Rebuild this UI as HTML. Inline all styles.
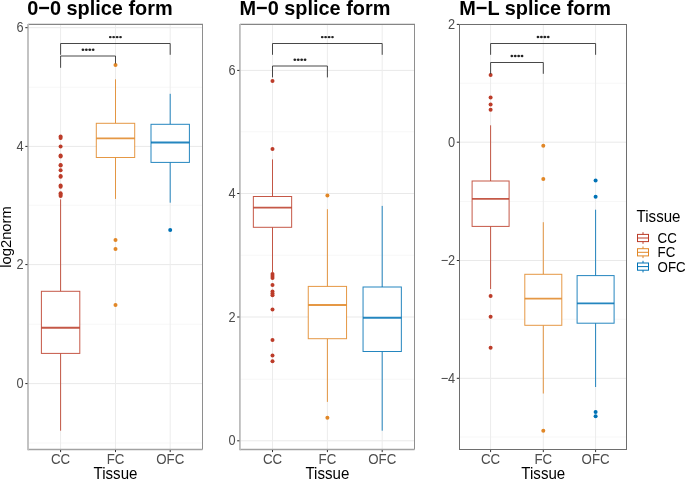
<!DOCTYPE html>
<html><head><meta charset="utf-8"><title>Splice form boxplots</title>
<style>
html,body{margin:0;padding:0;background:#fff;}
body{width:685px;height:480px;overflow:hidden;font-family:"Liberation Sans",sans-serif;}
svg{display:block;will-change:transform;}
</style></head><body>
<svg width="685" height="480" viewBox="0 0 685 480" font-family="'Liberation Sans', sans-serif">
<rect x="0" y="0" width="685" height="480" fill="#ffffff"/>
<g>
<line x1="28.0" x2="202.5" y1="87.3" y2="87.3" stroke="#f3f3f3" stroke-width="0.7"/>
<line x1="28.0" x2="202.5" y1="205.3" y2="205.3" stroke="#f3f3f3" stroke-width="0.7"/>
<line x1="28.0" x2="202.5" y1="324.2" y2="324.2" stroke="#f3f3f3" stroke-width="0.7"/>
<line x1="28.0" x2="202.5" y1="443.0" y2="443.0" stroke="#f3f3f3" stroke-width="0.7"/>
<line x1="28.0" x2="202.5" y1="27.7" y2="27.7" stroke="#e9e9e9" stroke-width="1"/>
<line x1="28.0" x2="202.5" y1="146.4" y2="146.4" stroke="#e9e9e9" stroke-width="1"/>
<line x1="28.0" x2="202.5" y1="264.6" y2="264.6" stroke="#e9e9e9" stroke-width="1"/>
<line x1="28.0" x2="202.5" y1="383.6" y2="383.6" stroke="#e9e9e9" stroke-width="1"/>
<line x1="60.6" x2="60.6" y1="24.5" y2="449.5" stroke="#ececec" stroke-width="1"/>
<line x1="115.5" x2="115.5" y1="24.5" y2="449.5" stroke="#ececec" stroke-width="1"/>
<line x1="170.2" x2="170.2" y1="24.5" y2="449.5" stroke="#ececec" stroke-width="1"/>
<g stroke="#BC3C29" fill="none" stroke-width="1" stroke-opacity="0.86">
<line x1="60.6" x2="60.6" y1="199.4" y2="291.3"/>
<line x1="60.6" x2="60.6" y1="353.4" y2="430.7"/>
<rect x="41.40" y="291.3" width="38.40" height="62.10" fill="#ffffff"/>
<line x1="41.40" x2="79.80" y1="327.7" y2="327.7" stroke-width="1.9"/>
</g>
<circle cx="60.6" cy="136.5" r="2.0" fill="#BC3C29"/>
<circle cx="60.6" cy="138.1" r="2.0" fill="#BC3C29"/>
<circle cx="60.6" cy="146.4" r="2.0" fill="#BC3C29"/>
<circle cx="60.6" cy="155.4" r="2.0" fill="#BC3C29"/>
<circle cx="60.6" cy="156.5" r="2.0" fill="#BC3C29"/>
<circle cx="60.6" cy="164.9" r="2.0" fill="#BC3C29"/>
<circle cx="60.6" cy="165.6" r="2.0" fill="#BC3C29"/>
<circle cx="60.6" cy="170.2" r="2.0" fill="#BC3C29"/>
<circle cx="60.6" cy="175.9" r="2.0" fill="#BC3C29"/>
<circle cx="60.6" cy="176.7" r="2.0" fill="#BC3C29"/>
<circle cx="60.6" cy="185.6" r="2.0" fill="#BC3C29"/>
<circle cx="60.6" cy="186.8" r="2.0" fill="#BC3C29"/>
<circle cx="60.6" cy="193.3" r="2.0" fill="#BC3C29"/>
<circle cx="60.6" cy="194.7" r="2.0" fill="#BC3C29"/>
<circle cx="60.6" cy="196.1" r="2.0" fill="#BC3C29"/>
<g stroke="#E18727" fill="none" stroke-width="1" stroke-opacity="0.86">
<line x1="115.5" x2="115.5" y1="79.3" y2="123.3"/>
<line x1="115.5" x2="115.5" y1="157.5" y2="198.9"/>
<rect x="96.30" y="123.3" width="38.40" height="34.20" fill="#ffffff"/>
<line x1="96.30" x2="134.70" y1="138.4" y2="138.4" stroke-width="1.9"/>
</g>
<circle cx="115.5" cy="64.9" r="2.0" fill="#E18727"/>
<circle cx="115.5" cy="240.0" r="2.0" fill="#E18727"/>
<circle cx="115.5" cy="248.9" r="2.0" fill="#E18727"/>
<circle cx="115.5" cy="305.0" r="2.0" fill="#E18727"/>
<g stroke="#0072B5" fill="none" stroke-width="1" stroke-opacity="0.86">
<line x1="170.2" x2="170.2" y1="93.8" y2="124.3"/>
<line x1="170.2" x2="170.2" y1="162.4" y2="202.7"/>
<rect x="151.00" y="124.3" width="38.40" height="38.10" fill="#ffffff"/>
<line x1="151.00" x2="189.40" y1="142.5" y2="142.5" stroke-width="1.9"/>
</g>
<circle cx="170.2" cy="230.1" r="2.0" fill="#0072B5"/>
<path d="M60.6 54.8V43.5H170.2V54.8" fill="none" stroke="#333333" stroke-width="0.9"/>
<line x1="109.80" x2="121.00" y1="37.1" y2="37.1" stroke="#000" stroke-opacity="0.3" stroke-width="1"/>
<ellipse cx="110.22" cy="37.1" rx="1.3" ry="1.2" fill="#222"/>
<ellipse cx="113.67" cy="37.1" rx="1.3" ry="1.2" fill="#222"/>
<ellipse cx="117.12" cy="37.1" rx="1.3" ry="1.2" fill="#222"/>
<ellipse cx="120.57" cy="37.1" rx="1.3" ry="1.2" fill="#222"/>
<path d="M60.6 67.8V56.0H115.5V63.5" fill="none" stroke="#333333" stroke-width="0.9"/>
<line x1="82.45" x2="93.65" y1="49.8" y2="49.8" stroke="#000" stroke-opacity="0.3" stroke-width="1"/>
<ellipse cx="82.88" cy="49.8" rx="1.3" ry="1.2" fill="#222"/>
<ellipse cx="86.33" cy="49.8" rx="1.3" ry="1.2" fill="#222"/>
<ellipse cx="89.77" cy="49.8" rx="1.3" ry="1.2" fill="#222"/>
<ellipse cx="93.22" cy="49.8" rx="1.3" ry="1.2" fill="#222"/>
<path d="M202.5 24.5V449.5" fill="none" stroke="#8e8e8e" stroke-width="1"/>
<path d="M28.0 24.4H203.0" fill="none" stroke="#858585" stroke-width="1.15"/>
<line x1="28.0" x2="202.5" y1="449.5" y2="449.5" stroke="#a2a2a2" stroke-width="1.5"/>
<line x1="28.0" x2="28.0" y1="24.0" y2="450.2" stroke="#bdbdbd" stroke-width="1.8"/>
<line x1="25.30" x2="27.50" y1="27.7" y2="27.7" stroke="#262626" stroke-width="1"/>
<text transform="translate(23.70,32.30) scale(0.96,1.07)" font-size="13.3" text-anchor="end" fill="#4d4d4d">6</text>
<line x1="25.30" x2="27.50" y1="146.4" y2="146.4" stroke="#262626" stroke-width="1"/>
<text transform="translate(23.70,151.00) scale(0.96,1.07)" font-size="13.3" text-anchor="end" fill="#4d4d4d">4</text>
<line x1="25.30" x2="27.50" y1="264.6" y2="264.6" stroke="#262626" stroke-width="1"/>
<text transform="translate(23.70,269.20) scale(0.96,1.07)" font-size="13.3" text-anchor="end" fill="#4d4d4d">2</text>
<line x1="25.30" x2="27.50" y1="383.6" y2="383.6" stroke="#262626" stroke-width="1"/>
<text transform="translate(23.70,388.20) scale(0.96,1.07)" font-size="13.3" text-anchor="end" fill="#4d4d4d">0</text>
<line x1="60.6" x2="60.6" y1="450.0" y2="452.1" stroke="#333" stroke-width="1"/>
<text transform="translate(60.60,464.10) scale(1.0,1.11)" font-size="13.3" text-anchor="middle" fill="#4d4d4d">CC</text>
<line x1="115.5" x2="115.5" y1="450.0" y2="452.1" stroke="#333" stroke-width="1"/>
<text transform="translate(115.50,464.10) scale(1.0,1.11)" font-size="13.3" text-anchor="middle" fill="#4d4d4d">FC</text>
<line x1="170.2" x2="170.2" y1="450.0" y2="452.1" stroke="#333" stroke-width="1"/>
<text transform="translate(170.20,464.10) scale(1.0,1.11)" font-size="13.3" text-anchor="middle" fill="#4d4d4d">OFC</text>
<text transform="translate(115.50,479.40) scale(1.03,1.08)" font-size="14.67" text-anchor="middle" fill="#000">Tissue</text>
<text transform="translate(27.20,14.90) scale(1.0,1.06)" font-size="19.9" text-anchor="start" fill="#000" font-weight="bold">0−0 splice form</text>
</g>
<g>
<line x1="239.9" x2="414.5" y1="131.8" y2="131.8" stroke="#f3f3f3" stroke-width="0.7"/>
<line x1="239.9" x2="414.5" y1="255.3" y2="255.3" stroke="#f3f3f3" stroke-width="0.7"/>
<line x1="239.9" x2="414.5" y1="379.2" y2="379.2" stroke="#f3f3f3" stroke-width="0.7"/>
<line x1="239.9" x2="414.5" y1="70.4" y2="70.4" stroke="#e9e9e9" stroke-width="1"/>
<line x1="239.9" x2="414.5" y1="193.5" y2="193.5" stroke="#e9e9e9" stroke-width="1"/>
<line x1="239.9" x2="414.5" y1="317.0" y2="317.0" stroke="#e9e9e9" stroke-width="1"/>
<line x1="239.9" x2="414.5" y1="440.8" y2="440.8" stroke="#e9e9e9" stroke-width="1"/>
<line x1="272.5" x2="272.5" y1="24.5" y2="449.5" stroke="#ececec" stroke-width="1"/>
<line x1="327.4" x2="327.4" y1="24.5" y2="449.5" stroke="#ececec" stroke-width="1"/>
<line x1="382.2" x2="382.2" y1="24.5" y2="449.5" stroke="#ececec" stroke-width="1"/>
<g stroke="#BC3C29" fill="none" stroke-width="1" stroke-opacity="0.86">
<line x1="272.5" x2="272.5" y1="159.4" y2="196.5"/>
<line x1="272.5" x2="272.5" y1="227.3" y2="272.2"/>
<rect x="253.35" y="196.5" width="38.30" height="30.80" fill="#ffffff"/>
<line x1="253.35" x2="291.65" y1="207.6" y2="207.6" stroke-width="1.9"/>
</g>
<circle cx="272.5" cy="80.9" r="2.0" fill="#BC3C29"/>
<circle cx="272.5" cy="148.9" r="2.0" fill="#BC3C29"/>
<circle cx="272.5" cy="274.0" r="2.0" fill="#BC3C29"/>
<circle cx="272.5" cy="276.0" r="2.0" fill="#BC3C29"/>
<circle cx="272.5" cy="278.0" r="2.0" fill="#BC3C29"/>
<circle cx="272.5" cy="285.0" r="2.0" fill="#BC3C29"/>
<circle cx="272.5" cy="291.4" r="2.0" fill="#BC3C29"/>
<circle cx="272.5" cy="293.4" r="2.0" fill="#BC3C29"/>
<circle cx="272.5" cy="295.3" r="2.0" fill="#BC3C29"/>
<circle cx="272.5" cy="309.6" r="2.0" fill="#BC3C29"/>
<circle cx="272.5" cy="340.1" r="2.0" fill="#BC3C29"/>
<circle cx="272.5" cy="355.4" r="2.0" fill="#BC3C29"/>
<circle cx="272.5" cy="361.2" r="2.0" fill="#BC3C29"/>
<g stroke="#E18727" fill="none" stroke-width="1" stroke-opacity="0.86">
<line x1="327.4" x2="327.4" y1="209.2" y2="286.4"/>
<line x1="327.4" x2="327.4" y1="338.7" y2="401.9"/>
<rect x="308.25" y="286.4" width="38.30" height="52.30" fill="#ffffff"/>
<line x1="308.25" x2="346.55" y1="305.0" y2="305.0" stroke-width="1.9"/>
</g>
<circle cx="327.4" cy="195.5" r="2.0" fill="#E18727"/>
<circle cx="327.4" cy="417.8" r="2.0" fill="#E18727"/>
<g stroke="#0072B5" fill="none" stroke-width="1" stroke-opacity="0.86">
<line x1="382.2" x2="382.2" y1="205.9" y2="287.0"/>
<line x1="382.2" x2="382.2" y1="351.5" y2="430.7"/>
<rect x="363.05" y="287.0" width="38.30" height="64.50" fill="#ffffff"/>
<line x1="363.05" x2="401.35" y1="317.7" y2="317.7" stroke-width="1.9"/>
</g>
<path d="M272.5 54.8V43.5H382.2V54.8" fill="none" stroke="#333333" stroke-width="0.9"/>
<line x1="321.75" x2="332.95" y1="37.1" y2="37.1" stroke="#000" stroke-opacity="0.3" stroke-width="1"/>
<ellipse cx="322.18" cy="37.1" rx="1.3" ry="1.2" fill="#222"/>
<ellipse cx="325.62" cy="37.1" rx="1.3" ry="1.2" fill="#222"/>
<ellipse cx="329.08" cy="37.1" rx="1.3" ry="1.2" fill="#222"/>
<ellipse cx="332.53" cy="37.1" rx="1.3" ry="1.2" fill="#222"/>
<path d="M272.5 77.4V66.0H327.4V77.4" fill="none" stroke="#333333" stroke-width="0.9"/>
<line x1="294.35" x2="305.55" y1="59.8" y2="59.8" stroke="#000" stroke-opacity="0.3" stroke-width="1"/>
<ellipse cx="294.77" cy="59.8" rx="1.3" ry="1.2" fill="#222"/>
<ellipse cx="298.22" cy="59.8" rx="1.3" ry="1.2" fill="#222"/>
<ellipse cx="301.68" cy="59.8" rx="1.3" ry="1.2" fill="#222"/>
<ellipse cx="305.12" cy="59.8" rx="1.3" ry="1.2" fill="#222"/>
<path d="M414.5 24.5V449.5" fill="none" stroke="#8e8e8e" stroke-width="1"/>
<path d="M239.9 24.4H415.0" fill="none" stroke="#858585" stroke-width="1.15"/>
<line x1="239.9" x2="414.5" y1="449.5" y2="449.5" stroke="#a2a2a2" stroke-width="1.5"/>
<line x1="239.9" x2="239.9" y1="24.0" y2="450.2" stroke="#bdbdbd" stroke-width="1.8"/>
<line x1="237.20" x2="239.40" y1="70.4" y2="70.4" stroke="#262626" stroke-width="1"/>
<text transform="translate(235.60,75.00) scale(0.96,1.07)" font-size="13.3" text-anchor="end" fill="#4d4d4d">6</text>
<line x1="237.20" x2="239.40" y1="193.5" y2="193.5" stroke="#262626" stroke-width="1"/>
<text transform="translate(235.60,198.10) scale(0.96,1.07)" font-size="13.3" text-anchor="end" fill="#4d4d4d">4</text>
<line x1="237.20" x2="239.40" y1="317.0" y2="317.0" stroke="#262626" stroke-width="1"/>
<text transform="translate(235.60,321.60) scale(0.96,1.07)" font-size="13.3" text-anchor="end" fill="#4d4d4d">2</text>
<line x1="237.20" x2="239.40" y1="440.8" y2="440.8" stroke="#262626" stroke-width="1"/>
<text transform="translate(235.60,445.40) scale(0.96,1.07)" font-size="13.3" text-anchor="end" fill="#4d4d4d">0</text>
<line x1="272.5" x2="272.5" y1="450.0" y2="452.1" stroke="#333" stroke-width="1"/>
<text transform="translate(272.50,464.10) scale(1.0,1.11)" font-size="13.3" text-anchor="middle" fill="#4d4d4d">CC</text>
<line x1="327.4" x2="327.4" y1="450.0" y2="452.1" stroke="#333" stroke-width="1"/>
<text transform="translate(327.40,464.10) scale(1.0,1.11)" font-size="13.3" text-anchor="middle" fill="#4d4d4d">FC</text>
<line x1="382.2" x2="382.2" y1="450.0" y2="452.1" stroke="#333" stroke-width="1"/>
<text transform="translate(382.20,464.10) scale(1.0,1.11)" font-size="13.3" text-anchor="middle" fill="#4d4d4d">OFC</text>
<text transform="translate(327.40,479.40) scale(1.03,1.08)" font-size="14.67" text-anchor="middle" fill="#000">Tissue</text>
<text transform="translate(239.50,14.90) scale(1.0,1.06)" font-size="19.9" text-anchor="start" fill="#000" font-weight="bold">M−0 splice form</text>
</g>
<g>
<line x1="459.5" x2="626.5" y1="83.2" y2="83.2" stroke="#f3f3f3" stroke-width="0.7"/>
<line x1="459.5" x2="626.5" y1="201.5" y2="201.5" stroke="#f3f3f3" stroke-width="0.7"/>
<line x1="459.5" x2="626.5" y1="319.3" y2="319.3" stroke="#f3f3f3" stroke-width="0.7"/>
<line x1="459.5" x2="626.5" y1="437.0" y2="437.0" stroke="#f3f3f3" stroke-width="0.7"/>
<line x1="459.5" x2="626.5" y1="24.4" y2="24.4" stroke="#e9e9e9" stroke-width="1"/>
<line x1="459.5" x2="626.5" y1="142.2" y2="142.2" stroke="#e9e9e9" stroke-width="1"/>
<line x1="459.5" x2="626.5" y1="260.5" y2="260.5" stroke="#e9e9e9" stroke-width="1"/>
<line x1="459.5" x2="626.5" y1="378.3" y2="378.3" stroke="#e9e9e9" stroke-width="1"/>
<line x1="490.6" x2="490.6" y1="24.5" y2="449.5" stroke="#ececec" stroke-width="1"/>
<line x1="543.3" x2="543.3" y1="24.5" y2="449.5" stroke="#ececec" stroke-width="1"/>
<line x1="595.6" x2="595.6" y1="24.5" y2="449.5" stroke="#ececec" stroke-width="1"/>
<g stroke="#BC3C29" fill="none" stroke-width="1" stroke-opacity="0.86">
<line x1="490.6" x2="490.6" y1="125.3" y2="181.0"/>
<line x1="490.6" x2="490.6" y1="226.4" y2="289.0"/>
<rect x="472.10" y="181.0" width="37.00" height="45.40" fill="#ffffff"/>
<line x1="472.10" x2="509.10" y1="198.9" y2="198.9" stroke-width="1.9"/>
</g>
<circle cx="490.6" cy="75.0" r="2.0" fill="#BC3C29"/>
<circle cx="490.6" cy="97.5" r="2.0" fill="#BC3C29"/>
<circle cx="490.6" cy="104.4" r="2.0" fill="#BC3C29"/>
<circle cx="490.6" cy="109.8" r="2.0" fill="#BC3C29"/>
<circle cx="490.6" cy="296.1" r="2.0" fill="#BC3C29"/>
<circle cx="490.6" cy="316.7" r="2.0" fill="#BC3C29"/>
<circle cx="490.6" cy="347.8" r="2.0" fill="#BC3C29"/>
<g stroke="#E18727" fill="none" stroke-width="1" stroke-opacity="0.86">
<line x1="543.3" x2="543.3" y1="222.2" y2="274.3"/>
<line x1="543.3" x2="543.3" y1="325.3" y2="393.5"/>
<rect x="524.80" y="274.3" width="37.00" height="51.00" fill="#ffffff"/>
<line x1="524.80" x2="561.80" y1="298.6" y2="298.6" stroke-width="1.9"/>
</g>
<circle cx="543.3" cy="145.7" r="2.0" fill="#E18727"/>
<circle cx="543.3" cy="178.9" r="2.0" fill="#E18727"/>
<circle cx="543.3" cy="430.8" r="2.0" fill="#E18727"/>
<g stroke="#0072B5" fill="none" stroke-width="1" stroke-opacity="0.86">
<line x1="595.6" x2="595.6" y1="209.7" y2="275.6"/>
<line x1="595.6" x2="595.6" y1="323.2" y2="387.0"/>
<rect x="577.10" y="275.6" width="37.00" height="47.60" fill="#ffffff"/>
<line x1="577.10" x2="614.10" y1="303.4" y2="303.4" stroke-width="1.9"/>
</g>
<circle cx="595.6" cy="180.6" r="2.0" fill="#0072B5"/>
<circle cx="595.6" cy="196.8" r="2.0" fill="#0072B5"/>
<circle cx="595.6" cy="411.9" r="2.0" fill="#0072B5"/>
<circle cx="595.6" cy="416.3" r="2.0" fill="#0072B5"/>
<path d="M490.6 54.8V43.5H595.6V54.8" fill="none" stroke="#333333" stroke-width="0.9"/>
<line x1="537.50" x2="548.70" y1="37.0" y2="37.0" stroke="#000" stroke-opacity="0.3" stroke-width="1"/>
<ellipse cx="537.93" cy="37.0" rx="1.3" ry="1.2" fill="#222"/>
<ellipse cx="541.38" cy="37.0" rx="1.3" ry="1.2" fill="#222"/>
<ellipse cx="544.83" cy="37.0" rx="1.3" ry="1.2" fill="#222"/>
<ellipse cx="548.27" cy="37.0" rx="1.3" ry="1.2" fill="#222"/>
<path d="M490.6 74.0V62.5H543.3V73.8" fill="none" stroke="#333333" stroke-width="0.9"/>
<line x1="511.35" x2="522.55" y1="56.0" y2="56.0" stroke="#000" stroke-opacity="0.3" stroke-width="1"/>
<ellipse cx="511.78" cy="56.0" rx="1.3" ry="1.2" fill="#222"/>
<ellipse cx="515.23" cy="56.0" rx="1.3" ry="1.2" fill="#222"/>
<ellipse cx="518.68" cy="56.0" rx="1.3" ry="1.2" fill="#222"/>
<ellipse cx="522.12" cy="56.0" rx="1.3" ry="1.2" fill="#222"/>
<rect x="459.5" y="24.5" width="167.00" height="425.00" fill="none" stroke="#6e6e6e" stroke-width="1"/>
<line x1="456.80" x2="459.00" y1="24.4" y2="24.4" stroke="#262626" stroke-width="1"/>
<text transform="translate(455.20,29.00) scale(0.96,1.07)" font-size="13.3" text-anchor="end" fill="#4d4d4d">2</text>
<line x1="456.80" x2="459.00" y1="142.2" y2="142.2" stroke="#262626" stroke-width="1"/>
<text transform="translate(455.20,146.80) scale(0.96,1.07)" font-size="13.3" text-anchor="end" fill="#4d4d4d">0</text>
<line x1="456.80" x2="459.00" y1="260.5" y2="260.5" stroke="#262626" stroke-width="1"/>
<text transform="translate(455.20,265.10) scale(0.96,1.07)" font-size="13.3" text-anchor="end" fill="#4d4d4d">−2</text>
<line x1="456.80" x2="459.00" y1="378.3" y2="378.3" stroke="#262626" stroke-width="1"/>
<text transform="translate(455.20,382.90) scale(0.96,1.07)" font-size="13.3" text-anchor="end" fill="#4d4d4d">−4</text>
<line x1="490.6" x2="490.6" y1="450.0" y2="452.1" stroke="#333" stroke-width="1"/>
<text transform="translate(490.60,464.10) scale(1.0,1.11)" font-size="13.3" text-anchor="middle" fill="#4d4d4d">CC</text>
<line x1="543.3" x2="543.3" y1="450.0" y2="452.1" stroke="#333" stroke-width="1"/>
<text transform="translate(543.30,464.10) scale(1.0,1.11)" font-size="13.3" text-anchor="middle" fill="#4d4d4d">FC</text>
<line x1="595.6" x2="595.6" y1="450.0" y2="452.1" stroke="#333" stroke-width="1"/>
<text transform="translate(595.60,464.10) scale(1.0,1.11)" font-size="13.3" text-anchor="middle" fill="#4d4d4d">OFC</text>
<text transform="translate(543.30,479.40) scale(1.03,1.08)" font-size="14.67" text-anchor="middle" fill="#000">Tissue</text>
<text transform="translate(459.20,14.90) scale(1.0,1.06)" font-size="19.9" text-anchor="start" fill="#000" font-weight="bold">M−L splice form</text>
</g>
<text transform="translate(10.95,237.00) rotate(-90) scale(1.005,1.06)" font-size="14.67" text-anchor="middle" fill="#000">log2norm</text>
<text transform="translate(636.60,222.10) scale(1.03,1.08)" font-size="14.67" text-anchor="start" fill="#000">Tissue</text>
<g stroke="#BC3C29" fill="none" stroke-width="1">
<line x1="643.0" x2="643.0" y1="232.20" y2="243.80"/>
<rect x="637.5" y="234.40" width="11" height="7.2" fill="#fff"/>
<line x1="637.5" x2="648.5" y1="238.00" y2="238.00"/>
</g>
<text transform="translate(657.60,243.00) scale(1.0,1.11)" font-size="13.3" text-anchor="start" fill="#000">CC</text>
<g stroke="#E18727" fill="none" stroke-width="1">
<line x1="643.0" x2="643.0" y1="246.50" y2="258.10"/>
<rect x="637.5" y="248.70" width="11" height="7.2" fill="#fff"/>
<line x1="637.5" x2="648.5" y1="252.30" y2="252.30"/>
</g>
<text transform="translate(657.60,257.30) scale(1.0,1.11)" font-size="13.3" text-anchor="start" fill="#000">FC</text>
<g stroke="#0072B5" fill="none" stroke-width="1">
<line x1="643.0" x2="643.0" y1="260.80" y2="272.40"/>
<rect x="637.5" y="263.00" width="11" height="7.2" fill="#fff"/>
<line x1="637.5" x2="648.5" y1="266.60" y2="266.60"/>
</g>
<text transform="translate(657.60,271.60) scale(1.0,1.11)" font-size="13.3" text-anchor="start" fill="#000">OFC</text>
</svg>
</body></html>
